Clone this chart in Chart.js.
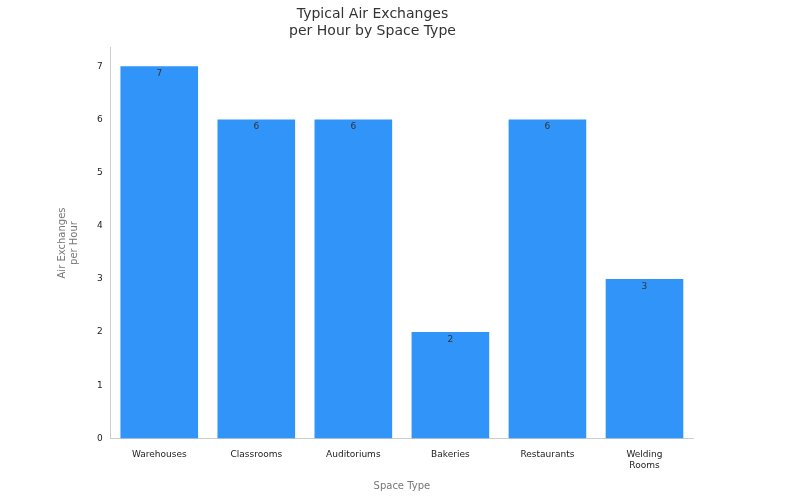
<!DOCTYPE html>
<html>
<head>
<meta charset="utf-8">
<script src="https://cdn.jsdelivr.net/npm/chart.js@4"></script>
<style>
  body { margin: 0; background: #fff; }
  #wrap { width: 800px; height: 500px; }
</style>
</head>
<body>
<div id="wrap"><canvas id="grafico"></canvas></div>
<script>
const categorias = [["Warehouses"], ["Classrooms"], ["Auditoriums"], ["Bakeries"], ["Restaurants"], ["Welding", "Rooms"]];
const trocas = [7, 6, 6, 2, 6, 3];
const ticksY = [0, 1, 2, 3, 4, 5, 6, 7];

// rótulo de valor logo abaixo do topo de cada barra
const rotulos = {
  id: "rotulos",
  afterDatasetsDraw(chart) {
    const ctx = chart.ctx;
    ctx.save();
    ctx.font = "9px 'DejaVu Sans'";
    ctx.fillStyle = "#333";
    ctx.textAlign = "center";
    ctx.textBaseline = "top";
    chart.getDatasetMeta(0).data.forEach((bar, i) => {
      ctx.fillText(trocas[i], bar.x, bar.y + 3);
    });
    ctx.restore();
  }
};

new Chart(document.getElementById("grafico"), {
  type: "bar",
  data: {
    labels: categorias,
    datasets: [{
      data: trocas,
      backgroundColor: "#3094f9",
      barPercentage: 0.8,
      categoryPercentage: 1
    }]
  },
  options: {
    responsive: true,
    maintainAspectRatio: false,
    animation: false,
    layout: { padding: { left: 52, right: 107, top: 4, bottom: 4 } },
    plugins: {
      legend: { display: false },
      tooltip: { enabled: false },
      title: {
        display: true,
        text: ["Typical Air Exchanges", "per Hour by Space Type"],
        color: "#333",
        font: { family: "DejaVu Sans", size: 14, weight: "normal" },
        padding: { top: 2, bottom: 8 }
      }
    },
    scales: {
      x: {
        grid: { display: false, drawTicks: true },
        border: { color: "#ccc" },
        ticks: { color: "#222", font: { family: "DejaVu Sans", size: 9 }, maxRotation: 0 },
        title: { display: true, text: "Space Type", color: "#777", font: { family: "DejaVu Sans", size: 10 }, padding: { top: 6 } }
      },
      y: {
        min: 0,
        max: 7.35,
        afterBuildTicks: axis => { axis.ticks = ticksY.map(v => ({ value: v })); },
        grid: { display: false, drawTicks: true, tickLength: 5 },
        border: { color: "#ccc" },
        ticks: { color: "#222", font: { family: "DejaVu Sans", size: 9 } },
        title: { display: true, text: ["Air Exchanges", "per Hour"], color: "#777", font: { family: "DejaVu Sans", size: 10 }, padding: { bottom: 14 } }
      }
    }
  },
  plugins: [rotulos]
});
</script>
</body>
</html>
